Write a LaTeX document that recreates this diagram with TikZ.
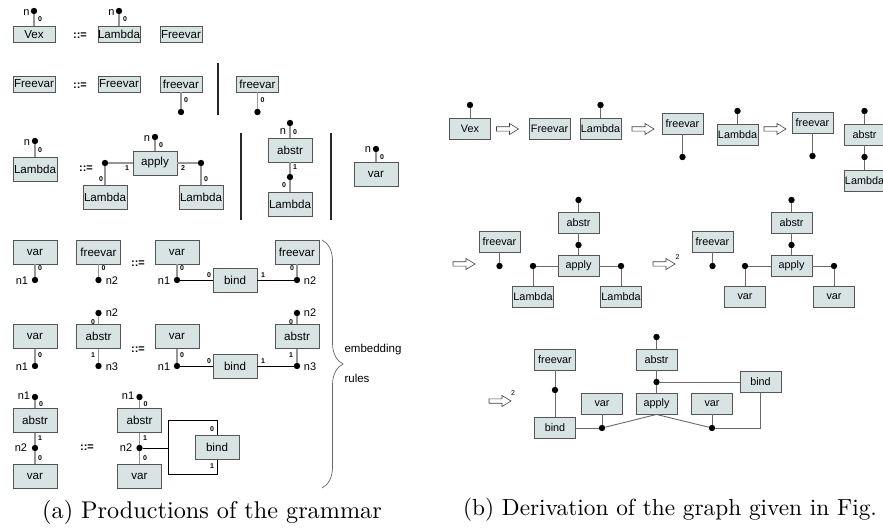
\documentclass[tikz,border=0pt]{standalone}
\usepackage{fontspec}
\usepackage{graphicx}
\setsansfont{Liberation Sans}
\usetikzlibrary{decorations.pathreplacing}
\definecolor{boxfill}{RGB}{216,228,228}
\definecolor{boxline}{RGB}{85,85,85}
\definecolor{portc}{RGB}{150,150,150}
\definecolor{linec}{RGB}{105,105,105}
\tikzset{
 gb/.style={draw=boxline, fill=boxfill, line width=0.9pt, inner sep=0pt, font=\sffamily\fontsize{11.6}{11.6}\selectfont},
 sbox/.style={gb, minimum width=42pt, minimum height=16pt},
 bbox/.style={gb, minimum width=44pt, minimum height=24pt},
 rbox/.style={gb, minimum width=41pt, minimum height=21pt, font=\sffamily\fontsize{10.8}{10.8}\selectfont},
 dot/.style={circle, fill=black, inner sep=0pt, minimum size=6.4pt},
 port/.style={draw=portc, line width=1.2pt},
 edge/.style={draw=black, line width=0.7pt},
 redge/.style={draw=linec, line width=0.9pt},
 plab/.style={font=\sffamily\bfseries\fontsize{7}{7}\selectfont, inner sep=0pt},
 nlab/.style={font=\sffamily\fontsize{11}{11}\selectfont, inner sep=0pt},
 eqlab/.style={font=\sffamily\bfseries\fontsize{11}{11}\selectfont, inner sep=0pt},
 harr/.pic={\draw[line width=0.6pt, draw=black!75, fill=white] (-11,-2.2) -- (2,-2.2) -- (2,-5.5) -- (11,0) -- (2,5.5) -- (2,2.2) -- (-11,2.2) -- cycle;},
 sep/.style={draw=black!85, line width=2.2pt},
 brc/.style={draw=black!60, line width=0.7pt, decorate, decoration={brace, amplitude=21pt}},
 captxt/.style={font=\rmfamily\fontsize{10}{12}\selectfont, inner sep=0pt}
}
\begin{document}
\begin{tikzpicture}[x=1pt,y=-1pt]
\useasboundingbox (0,0) rectangle (883,529);
% ---------------- (a) ----------------
% Row 1
\node[sbox] (vex) at (34,34.5) {Vex};
\node[dot] (vexn) at (34,11) {};
\draw[port] (vexn) -- (vex);
\node[nlab] at (26.5,13) {n};
\node[plab] at (40,19) {0};
\node[eqlab] (eq1) at (80,36) {::=};
\node[sbox] (lam1) at (119,34.5) {Lambda};
\node[dot] (lam1n) at (119,11) {};
\draw[port] (lam1n) -- (lam1);
\node[nlab] at (111.5,13) {n};
\node[plab] at (125,19) {0};
\node[sbox] (fv1) at (181,34.5) {Freevar};
% Row 2
\node[sbox] (fv2) at (34,84) {Freevar};
\node[eqlab] (eq2) at (80,86) {::=};
\node[sbox] (fv3) at (119,84) {Freevar};
\node[sbox] (fv4) at (181,84) {freevar};
\node[dot] (fv4d) at (181,112) {};
\draw[port] (fv4) -- (fv4d);
\node[plab] at (186,100) {0};
\draw[sep] (218,63) -- (218,115);
\node[sbox] (fv5) at (257.5,84) {freevar};
\node[dot] (fv5d) at (257.5,112) {};
\draw[port] (fv5) -- (fv5d);
\node[plab] at (262.5,100) {0};
% Row 3
\node[bbox] (lam3) at (35,169) {Lambda};
\node[dot] (lam3n) at (35,141) {};
\draw[port] (lam3n) -- (lam3);
\node[nlab] at (27,143) {n};
\node[plab] at (40,150) {0};
\node[eqlab] (eq3) at (86,169) {::=};
\node[bbox] (app3) at (155,163) {apply};
\node[dot] (app3n) at (155,137) {};
\draw[port] (app3n) -- (app3);
\node[nlab] at (147,139) {n};
\node[plab] at (161,145) {0};
\node[dot] (d3l) at (105,163) {};
\node[dot] (d3r) at (201,163) {};
\draw[port] (app3) -- (d3l);
\draw[port] (app3) -- (d3r);
\node[plab] at (127,168) {1};
\node[plab] at (183,168) {2};
\node[bbox] (lam3a) at (105,197) {Lambda};
\node[bbox] (lam3b) at (201,197) {Lambda};
\draw[port] (d3l) -- (lam3a);
\draw[port] (d3r) -- (lam3b);
\node[plab] at (101,179) {0};
\node[plab] at (206,179) {0};
\draw[sep] (241,133) -- (241,220);
\node[bbox] (abs3) at (290,150) {abstr};
\node[dot] (abs3n) at (290,123) {};
\draw[port] (abs3n) -- (abs3);
\node[nlab] at (283,132) {n};
\node[plab] at (295,132) {0};
\node[dot] (abs3d) at (290,177) {};
\draw[port] (abs3) -- (abs3d);
\node[plab] at (295,167) {1};
\node[plab] at (284,185) {0};
\node[bbox] (lam3c) at (290,204) {Lambda};
\draw[port] (abs3d) -- (lam3c);
\draw[sep] (331,133) -- (331,220);
\node[bbox] (var3) at (376,174) {var};
\node[dot] (var3n) at (376,149) {};
\draw[port] (var3n) -- (var3);
\node[nlab] at (368,150) {n};
\node[plab] at (382,157) {0};
% Row 4
\node[bbox] (var4a) at (35,252) {var};
\node[dot] (d4a) at (35,280) {};
\draw[port] (var4a) -- (d4a);
\node[plab] at (40,268) {0};
\node[nlab] at (22,281) {n1};
\node[bbox] (fv4a) at (98.5,252) {freevar};
\node[dot] (d4f) at (98.5,280) {};
\draw[port] (fv4a) -- (d4f);
\node[plab] at (103.5,268) {0};
\node[nlab] at (112,281) {n2};
\node[eqlab] (eq4) at (138,264) {::=};
\node[bbox] (var4b) at (177,252) {var};
\node[dot] (d4b) at (177,280) {};
\draw[port] (var4b) -- (d4b);
\node[plab] at (182,268) {0};
\node[nlab] at (164,281) {n1};
\node[bbox] (bind4) at (235,280) {bind};
\node[bbox] (fv4b) at (297,252) {freevar};
\node[dot] (d4c) at (297,280) {};
\draw[port] (fv4b) -- (d4c);
\node[plab] at (292,268) {0};
\node[nlab] at (310,281) {n2};
\draw[edge] (d4b) -- (bind4);
\draw[edge] (bind4) -- (d4c);
\node[plab] at (209,275) {0};
\node[plab] at (263,275) {1};
% Row 5
\node[bbox] (var5a) at (35,336.5) {var};
\node[dot] (d5a) at (35,366) {};
\draw[port] (var5a) -- (d5a);
\node[plab] at (40,355) {0};
\node[nlab] at (22,367) {n1};
\node[bbox] (abs5a) at (98.5,336.5) {abstr};
\node[dot] (d5t) at (98.5,313) {};
\draw[port] (d5t) -- (abs5a);
\node[nlab] at (112,313) {n2};
\node[plab] at (93,322) {0};
\node[dot] (d5u) at (98.5,366) {};
\draw[port] (abs5a) -- (d5u);
\node[plab] at (93,355) {1};
\node[nlab] at (112,367) {n3};
\node[eqlab] (eq5) at (138,350) {::=};
\node[bbox] (var5b) at (177,336.5) {var};
\node[dot] (d5b) at (177,366) {};
\draw[port] (var5b) -- (d5b);
\node[plab] at (182,355) {0};
\node[nlab] at (164,367) {n1};
\node[bbox] (bind5) at (235,366) {bind};
\node[bbox] (abs5b) at (297,336.5) {abstr};
\node[dot] (d5v) at (297,313) {};
\draw[port] (d5v) -- (abs5b);
\node[nlab] at (310,313) {n2};
\node[plab] at (291,322) {0};
\node[dot] (d5c) at (297,366) {};
\draw[port] (abs5b) -- (d5c);
\node[plab] at (291,355) {1};
\node[nlab] at (310,367) {n3};
\draw[edge] (d5b) -- (bind5);
\draw[edge] (bind5) -- (d5c);
\node[plab] at (209,361) {0};
\node[plab] at (263,361) {1};
% Row 6
\node[bbox] (abs6a) at (35,420.5) {abstr};
\node[dot] (d6t) at (35,397) {};
\draw[port] (d6t) -- (abs6a);
\node[nlab] at (24,396) {n1};
\node[plab] at (41,404) {0};
\node[dot] (d6a) at (35,448) {};
\draw[port] (abs6a) -- (d6a);
\node[plab] at (40,438) {1};
\node[nlab] at (21,448) {n2};
\node[plab] at (40,458) {0};
\node[bbox] (var6a) at (35,476) {var};
\draw[port] (d6a) -- (var6a);
\node[eqlab] (eq6) at (87,448) {::=};
\node[bbox] (abs6b) at (139.5,420.5) {abstr};
\node[dot] (d6u) at (139.5,397) {};
\draw[port] (d6u) -- (abs6b);
\node[nlab] at (128,396) {n1};
\node[plab] at (145.5,404) {0};
\node[dot] (d6b) at (139.5,448) {};
\draw[port] (abs6b) -- (d6b);
\node[plab] at (145,438) {1};
\node[nlab] at (126,448) {n2};
\node[plab] at (145,458) {0};
\node[bbox] (var6b) at (139.5,476) {var};
\draw[port] (d6b) -- (var6b);
\node[bbox] (bind6) at (217,447.5) {bind};
\coordinate (lp) at (168,448);
\coordinate (lt) at (168,420);
\coordinate (lb) at (168,474);
\draw[edge] (d6b) -- (lp);
\draw[edge] (lp) -- (lt) -| (bind6.north);
\draw[edge] (lp) -- (lb) -| (bind6.south);
\node[plab] at (212,429) {0};
\node[plab] at (212,466) {1};
% brace
\draw[brc] (322,240) -- (322,488);
\node[nlab, font=\sffamily\fontsize{11.5}{11.5}\selectfont] (emb) at (373,350) {embedding};
\node[nlab, font=\sffamily\fontsize{11.5}{11.5}\selectfont] (rul) at (357,378) {rules};
\node[captxt] (capa) at (212,512) {\scalebox{2.42}{(a) Productions of the grammar}};
% ---------------- (b) ----------------
\node[rbox] (rvex) at (470,128.5) {Vex};
\node[dot] (rvexd) at (470,105) {};
\draw[redge] (rvexd) -- (rvex);
\pic at (507.5,129) {harr};
\node[rbox] (rfv) at (549.5,128.5) {Freevar};
\node[rbox] (rlam) at (600.5,128.5) {Lambda};
\node[dot] (rlamd) at (600.5,105) {};
\draw[redge] (rlamd) -- (rlam);
\pic at (643,129) {harr};
\node[rbox] (rfv2) at (682.5,123.5) {freevar};
\node[dot] (rfv2d) at (682.5,157) {};
\draw[redge] (rfv2) -- (rfv2d);
\node[rbox] (rlam2) at (737.5,135) {Lambda};
\node[dot] (rlam2d) at (737.5,111) {};
\draw[redge] (rlam2d) -- (rlam2);
\pic at (775,129) {harr};
\node[rbox] (rfv3) at (812.5,122.5) {freevar};
\node[dot] (rfv3d) at (812.5,156) {};
\draw[redge] (rfv3) -- (rfv3d);
\node[rbox] (rabs3) at (864.5,134.5) {abstr};
\node[dot] (rabs3t) at (864.5,111) {};
\node[dot] (rabs3b) at (864.5,157) {};
\node[rbox] (rlam3) at (864.5,181) {Lambda};
\draw[redge] (rabs3t) -- (rabs3);
\draw[redge] (rabs3) -- (rabs3b);
\draw[redge] (rabs3b) -- (rlam3);
% row 2
\pic at (464,264) {harr};
\node[rbox] (s1fv) at (499.5,241.5) {freevar};
\node[dot] (s1fvd) at (499.5,266) {};
\draw[redge] (s1fv) -- (s1fvd);
\node[rbox] (s1abs) at (578.5,222.5) {abstr};
\node[dot] (s1t) at (578.5,200) {};
\node[dot] (s1m) at (578.5,245) {};
\node[rbox] (s1app) at (578.5,266) {apply};
\node[dot] (s1l) at (533,266) {};
\node[dot] (s1r) at (621,266) {};
\node[rbox] (s1la) at (533,297) {Lambda};
\node[rbox] (s1lb) at (621,297) {Lambda};
\draw[redge] (s1t) -- (s1abs);
\draw[redge] (s1abs) -- (s1m);
\draw[redge] (s1m) -- (s1app);
\draw[redge] (s1app) -- (s1l);
\draw[redge] (s1app) -- (s1r);
\draw[redge] (s1l) -- (s1la);
\draw[redge] (s1r) -- (s1lb);
\pic at (664,264) {harr};
\node[plab, font=\sffamily\fontsize{7}{7}\selectfont] at (677.5,257) {2};
\node[rbox] (s2fv) at (712.5,241.5) {freevar};
\node[dot] (s2fvd) at (712.5,266) {};
\draw[redge] (s2fv) -- (s2fvd);
\node[rbox] (s2abs) at (791.5,222.5) {abstr};
\node[dot] (s2t) at (791.5,200) {};
\node[dot] (s2m) at (791.5,245) {};
\node[rbox] (s2app) at (791.5,266) {apply};
\node[dot] (s2l) at (745,266) {};
\node[dot] (s2r) at (834,266) {};
\node[rbox] (s2va) at (745,297) {var};
\node[rbox] (s2vb) at (834,297) {var};
\draw[redge] (s2t) -- (s2abs);
\draw[redge] (s2abs) -- (s2m);
\draw[redge] (s2m) -- (s2app);
\draw[redge] (s2app) -- (s2l);
\draw[redge] (s2app) -- (s2r);
\draw[redge] (s2l) -- (s2va);
\draw[redge] (s2r) -- (s2vb);
% row 3
\pic at (500,401) {harr};
\node[plab, font=\sffamily\fontsize{7}{7}\selectfont] at (513,393) {2};
\node[rbox] (t3fv) at (555,359.5) {freevar};
\node[dot] (t3fvd) at (555,390) {};
\node[rbox] (t3bl) at (555,428) {bind};
\draw[redge] (t3fv) -- (t3fvd);
\draw[redge] (t3fvd) -- (t3bl);
\node[rbox] (t3abs) at (656.5,359.5) {abstr};
\node[dot] (t3t) at (656.5,337) {};
\node[dot] (t3m) at (656.5,382) {};
\node[rbox] (t3br) at (760.5,382) {bind};
\node[rbox] (t3app) at (656.5,403.5) {apply};
\node[rbox] (t3va) at (602,403.5) {var};
\node[rbox] (t3vb) at (712,403.5) {var};
\node[dot] (t3l) at (602,428) {};
\node[dot] (t3r) at (712,428) {};
\coordinate (t3c) at (760.5,428);
\draw[redge] (t3t) -- (t3abs);
\draw[redge] (t3abs) -- (t3m);
\draw[redge] (t3m) -- (t3app);
\draw[redge] (t3m) -- (t3br);
\draw[redge] (t3bl) -- (t3l);
\draw[redge] (t3l) -- (t3app.south);
\draw[redge] (t3app.south) -- (t3r);
\draw[redge] (t3r) -- (t3c) -- (t3br);
\draw[redge] (t3va) -- (t3l);
\draw[redge] (t3vb) -- (t3r);
\node[captxt] (capb) at (670,510) {\scalebox{2.33}{(b) Derivation of the graph given in Fig.}};
\end{tikzpicture}
\end{document}
